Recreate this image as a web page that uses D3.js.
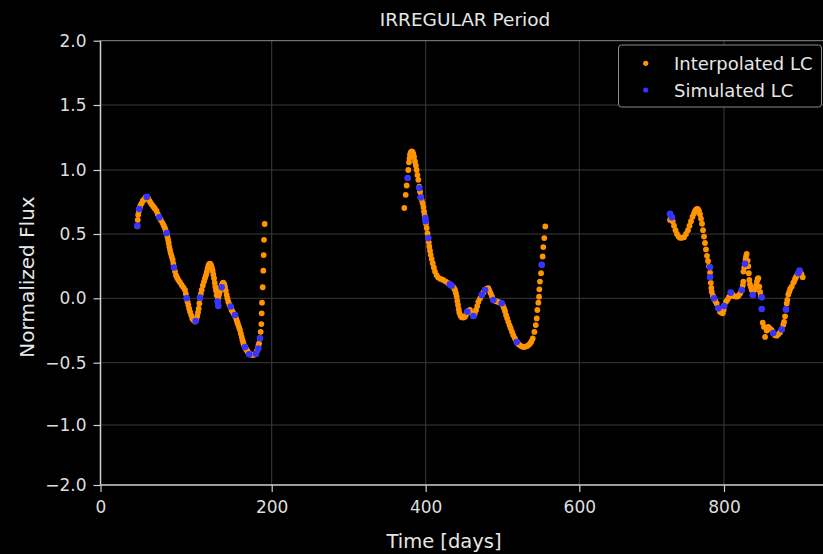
<!DOCTYPE html>
<html>
<head>
<meta charset="utf-8">
<script src="https://cdn.jsdelivr.net/npm/d3@7"></script>
<style>
  body { margin: 0; background: #000; }
  text { font-family: "DejaVu Sans", sans-serif; }
</style>
</head>
<body>
<svg id="chart" width="823" height="554"></svg>
<script>
// Tick values and labels
const xTicks = [0, 200, 400, 600, 800];
const yTicks = [2, 1.5, 1, 0.5, 0, -0.5, -1, -2];
const legendLabels = ["Interpolated LC", "Simulated LC"];

// Interpolated light curve, [time (days), normalized flux], three observing seasons
const interpSeason1 = [
  [43.0, 0.56], [43.5, 0.61], [44.0, 0.65], [44.8, 0.68], [45.5, 0.70], [46.5, 0.72],
  [48.0, 0.74], [49.5, 0.76], [51.0, 0.77], [52.5, 0.785], [54.0, 0.79], [55.5, 0.78],
  [57.0, 0.76], [58.5, 0.745], [60.0, 0.73], [61.7, 0.715], [63.5, 0.70], [65.5, 0.68],
  [67.0, 0.655], [68.7, 0.63], [70.5, 0.61], [72.5, 0.585], [74.0, 0.565], [75.3, 0.545],
  [76.3, 0.525], [77.3, 0.505], [78.2, 0.48], [79.0, 0.455], [79.7, 0.43], [80.4, 0.40],
  [81.2, 0.375], [82.0, 0.35], [83.2, 0.325], [84.3, 0.30], [85.1, 0.27], [85.9, 0.24],
  [87.0, 0.21], [88.2, 0.18], [89.5, 0.16], [90.9, 0.143], [92.8, 0.125], [94.8, 0.104],
  [96.8, 0.085], [98.7, 0.065], [99.7, 0.035], [100.7, 0.00], [101.6, -0.025], [102.6, -0.052],
  [103.6, -0.08], [104.6, -0.105], [105.9, -0.13], [107.2, -0.156], [108.8, -0.17], [110.4, -0.18],
  [111.8, -0.165], [113.0, -0.14], [113.9, -0.11], [114.7, -0.08], [115.5, -0.04], [116.2, 0.00],
  [117.2, 0.035], [118.2, 0.065], [119.5, 0.10], [120.9, 0.13], [122.0, 0.155], [123.2, 0.18],
  [124.2, 0.205], [125.2, 0.234], [126.2, 0.255], [127.1, 0.268], [128.1, 0.27], [129.1, 0.26],
  [130.1, 0.24], [131.0, 0.215], [131.8, 0.185], [132.6, 0.156], [133.4, 0.12], [134.1, 0.09],
  [134.9, 0.06], [135.7, 0.026], [136.9, -0.02], [137.6, 0.00], [138.4, 0.026], [139.4, 0.05],
  [140.4, 0.078], [141.5, 0.10], [142.5, 0.115], [143.5, 0.122], [144.5, 0.11], [145.4, 0.09],
  [146.4, 0.06], [147.4, 0.026], [148.3, 0.00], [149.3, -0.026], [150.7, -0.05], [152.1, -0.07],
  [153.2, -0.09], [154.4, -0.105], [155.7, -0.12], [157.1, -0.136], [158.1, -0.15], [159.1, -0.17],
  [160.0, -0.19], [161.0, -0.208], [162.0, -0.228], [163.0, -0.247], [164.0, -0.275], [165.0, -0.30],
  [165.9, -0.325], [166.8, -0.347], [167.8, -0.365], [168.8, -0.378], [170.1, -0.395], [171.5, -0.409],
  [172.6, -0.42], [173.8, -0.43], [175.2, -0.435], [176.6, -0.437], [178.0, -0.44], [179.3, -0.437],
  [180.5, -0.435], [181.7, -0.43], [182.7, -0.41], [183.6, -0.39], [184.4, -0.37], [185.2, -0.35],
  [186.3, -0.31], [187.1, -0.26], [187.9, -0.20], [188.3, -0.117], [188.7, -0.034], [189.5, 0.086],
  [190.2, 0.215], [190.6, 0.336], [191.0, 0.455], [191.8, 0.578]
];

const interpSeason2 = [
  [372.2, 0.703], [374.0, 0.806], [375.3, 0.879], [376.6, 0.937], [377.4, 1.00], [378.3, 1.059],
  [379.0, 1.09], [379.6, 1.119], [380.6, 1.135], [381.8, 1.144], [382.8, 1.14], [383.9, 1.126],
  [385.0, 1.10], [386.1, 1.066], [387.2, 1.035], [388.3, 1.00], [389.3, 0.96], [390.4, 0.923],
  [391.7, 0.87], [392.6, 0.83], [393.5, 0.793], [394.8, 0.765], [396.1, 0.74], [397.0, 0.71],
  [397.8, 0.676], [398.6, 0.645], [399.5, 0.617], [400.4, 0.58], [401.3, 0.546], [402.4, 0.505],
  [403.4, 0.468], [404.0, 0.435], [404.7, 0.403], [405.6, 0.37], [406.5, 0.338], [407.8, 0.305],
  [409.1, 0.273], [410.6, 0.24], [412.1, 0.208], [414.2, 0.18], [416.4, 0.161], [419.6, 0.15],
  [422.9, 0.143], [426.1, 0.13], [429.4, 0.117], [432.3, 0.104], [435.2, 0.091], [436.7, 0.08],
  [438.2, 0.065], [439.3, 0.04], [440.4, 0.013], [441.2, -0.02], [442.1, -0.052], [443.0, -0.085],
  [443.8, -0.112], [445.3, -0.135], [446.9, -0.148], [449.0, -0.15], [451.2, -0.144], [452.7, -0.125],
  [454.2, -0.105], [456.0, -0.095], [457.7, -0.091], [460.0, -0.115], [462.1, -0.138], [463.8, -0.12],
  [465.6, -0.091], [467.1, -0.06], [468.6, -0.026], [470.8, 0.00], [473.0, 0.026], [475.1, 0.045],
  [477.3, 0.065], [479.4, 0.075], [481.5, 0.078], [483.0, 0.06], [484.6, 0.039], [486.3, 0.015],
  [488.1, -0.013], [490.7, -0.02], [493.3, -0.026], [496.2, -0.032], [499.0, -0.039], [500.5, -0.055],
  [502.0, -0.078], [503.3, -0.10], [504.6, -0.13], [506.1, -0.155], [507.6, -0.183], [509.2, -0.21],
  [510.7, -0.234], [512.4, -0.26], [514.1, -0.286], [516.3, -0.313], [518.5, -0.339], [520.7, -0.355],
  [522.8, -0.365], [525.0, -0.373], [527.1, -0.378], [529.4, -0.377], [531.6, -0.372], [533.8, -0.363],
  [535.9, -0.351], [537.7, -0.335], [539.4, -0.312], [541.5, -0.261], [543.3, -0.208], [544.6, -0.156],
  [545.4, -0.091], [546.7, -0.034], [547.6, 0.013], [548.0, 0.07], [548.8, 0.13], [550.2, 0.195],
  [551.0, 0.26], [552.3, 0.325], [553.1, 0.398], [554.4, 0.468], [555.7, 0.559]
];

const interpSeason3 = [
  [725.4, 0.61], [726.3, 0.64], [727.5, 0.625], [729.0, 0.60], [730.9, 0.565], [733.0, 0.53],
  [735.0, 0.50], [737.2, 0.48], [739.2, 0.47], [742.0, 0.47], [744.7, 0.475], [747.5, 0.50],
  [750.2, 0.53], [752.3, 0.565], [754.4, 0.60], [756.5, 0.635], [758.5, 0.66], [760.0, 0.68],
  [761.3, 0.69], [762.7, 0.697], [764.0, 0.695], [765.4, 0.68], [766.8, 0.655], [768.2, 0.62],
  [769.6, 0.58], [771.0, 0.53], [772.4, 0.48], [773.7, 0.43], [775.1, 0.38], [776.5, 0.33],
  [777.9, 0.29], [779.3, 0.25], [780.7, 0.20], [781.8, 0.12], [782.5, 0.08], [783.0, 0.05],
  [784.6, 0.02], [786.2, 0.00], [788.0, -0.02], [789.9, -0.04], [792.1, -0.078], [794.5, -0.105],
  [796.4, -0.11], [798.2, -0.117], [799.5, -0.09], [800.5, -0.06], [802.8, -0.026], [805.0, -0.01],
  [807.0, 0.01], [809.3, 0.044], [811.0, 0.035], [812.9, 0.018], [815.0, 0.015], [817.6, 0.013],
  [820.0, 0.02], [822.5, 0.04], [824.5, 0.065], [826.0, 0.10], [826.7, 0.13], [826.9, 0.208],
  [828.0, 0.24], [829.8, 0.30], [830.4, 0.325], [831.4, 0.346], [832.7, 0.293], [833.6, 0.25],
  [834.3, 0.195], [835.0, 0.143], [835.9, 0.109], [837.0, 0.09], [838.3, 0.065], [840.5, 0.06],
  [842.9, 0.07], [844.5, 0.10], [845.5, 0.13], [846.5, 0.15], [847.4, 0.156], [848.8, 0.091],
  [849.8, 0.05], [850.8, 0.02], [853.5, -0.19], [855.3, -0.222], [856.7, -0.30], [859.0, -0.25],
  [861.2, -0.222], [863.6, -0.235], [865.9, -0.247], [868.1, -0.27], [870.5, -0.286], [872.8, -0.29],
  [875.0, -0.28], [877.4, -0.265], [879.8, -0.242], [882.0, -0.205], [883.0, -0.183], [884.4, -0.14],
  [885.7, -0.086], [886.7, -0.04], [887.5, -0.013], [888.9, 0.03], [890.3, 0.052], [891.6, 0.075],
  [893.6, 0.091], [895.8, 0.12], [896.8, 0.13], [898.2, 0.15], [899.5, 0.164], [901.0, 0.18],
  [902.7, 0.195], [905.0, 0.21], [907.0, 0.19], [908.8, 0.164]
];

// Simulated light curve samples, [time (days), normalized flux]
const simulated = [
  [43.0, 0.564], [45.3, 0.695], [54.0, 0.79], [68.7, 0.63], [77.3, 0.507], [85.9, 0.24],
  [100.7, 0.0], [111.2, -0.177], [116.2, 0.005], [136.9, -0.026], [137.6, -0.06], [141.6, 0.086],
  [152.1, -0.064], [157.1, -0.13], [168.8, -0.378], [173.8, -0.435], [181.7, -0.43], [184.4, -0.39],
  [186.3, -0.31],
  [376.6, 0.937], [391.7, 0.859], [393.5, 0.785], [399.5, 0.625], [399.8, 0.60], [403.4, 0.468],
  [431.6, 0.109], [433.7, 0.097], [454.2, -0.105], [462.1, -0.138], [473.0, 0.026], [477.3, 0.065],
  [488.1, -0.013], [499.0, -0.039], [518.5, -0.339], [551.0, 0.26],
  [725.4, 0.657], [728.0, 0.63], [780.6, 0.242], [780.8, 0.164], [786.2, 0.0], [792.1, -0.078],
  [800.0, -0.06], [809.3, 0.044], [824.5, 0.065], [829.0, 0.268], [839.7, 0.026], [852.1, 0.008],
  [852.1, -0.083], [868.1, -0.27], [879.8, -0.242], [885.7, -0.086], [902.7, 0.195], [904.3, 0.215]
];

const interpolated = interpSeason1.concat(interpSeason2, interpSeason3);

const ORANGE = "#ff9400";
const BLUE = "#3535ff";
const PLOT = { LEFT: 100.5, RIGHT: 829, TOP: 40.7, BOTTOM: 485 };

const svg = d3.select("#chart");
svg.append("rect").attr("width", 823).attr("height", 554).attr("fill", "#000");

// Scales (the picture's tick spacing is uneven, so both scales are piecewise)
const x = d3.scaleLinear()
  .domain([0, 200, 400, 600, 800, 1000])
  .range([100.5, 271.7, 425.7, 579.3, 724, 868.7]);

const y = d3.scaleLinear()
  .domain(yTicks)
  .range([40.7, 105, 170, 234, 298.3, 362.7, 425, 485]);

// Grid
const grid = svg.append("g").attr("stroke", "#3a3a3a").attr("stroke-width", 1);
grid.selectAll(".vgrid").data(xTicks.slice(1)).enter().append("line")
  .attr("x1", d => x(d)).attr("x2", d => x(d))
  .attr("y1", PLOT.TOP).attr("y2", PLOT.BOTTOM);
grid.selectAll(".hgrid").data(yTicks.slice(1, -1)).enter().append("line")
  .attr("x1", PLOT.LEFT).attr("x2", PLOT.RIGHT)
  .attr("y1", d => y(d)).attr("y2", d => y(d));

// Spines
svg.append("line").attr("x1", PLOT.LEFT).attr("x2", PLOT.RIGHT)
  .attr("y1", PLOT.TOP).attr("y2", PLOT.TOP).attr("stroke", "#8a8a8a");
svg.append("line").attr("x1", PLOT.LEFT).attr("x2", PLOT.RIGHT)
  .attr("y1", PLOT.BOTTOM).attr("y2", PLOT.BOTTOM).attr("stroke", "#d0d0d0").attr("stroke-width", 1.5);
svg.append("line").attr("x1", PLOT.LEFT).attr("x2", PLOT.LEFT)
  .attr("y1", PLOT.TOP).attr("y2", PLOT.BOTTOM).attr("stroke", "#d0d0d0").attr("stroke-width", 1.5);

// Axes
const xAxis = svg.append("g")
  .attr("transform", "translate(0," + PLOT.BOTTOM + ")")
  .call(d3.axisBottom(x).tickValues(xTicks).tickSize(7).tickPadding(9).tickFormat(d3.format("d")));
const yAxis = svg.append("g")
  .attr("transform", "translate(" + PLOT.LEFT + ",0)")
  .call(d3.axisLeft(y).tickValues(yTicks).tickSize(7).tickPadding(7).tickFormat(d3.format(".1f")));

[xAxis, yAxis].forEach(a => {
  a.select(".domain").remove();
  a.selectAll(".tick line").attr("stroke", "#d0d0d0").attr("stroke-width", 1.2);
  a.selectAll(".tick text").attr("fill", "#dedede").style("font-size", "17px")
    .style("font-family", "DejaVu Sans");
});

// Points
svg.append("g").selectAll("circle").data(interpolated).enter().append("circle")
  .attr("cx", d => x(d[0])).attr("cy", d => y(d[1]))
  .attr("r", 2.9).attr("fill", ORANGE);

svg.append("g").selectAll("circle").data(simulated).enter().append("circle")
  .attr("cx", d => x(d[0])).attr("cy", d => y(d[1]))
  .attr("r", 3.3).attr("fill", BLUE);

// Title and labels
svg.append("text").attr("x", 465).attr("y", 26).attr("text-anchor", "middle")
  .attr("fill", "#e6e6e6").style("font-size", "18.5px").text("IRREGULAR Period");

svg.append("text").attr("x", 444).attr("y", 548).attr("text-anchor", "middle")
  .attr("fill", "#e6e6e6").style("font-size", "19.5px").text("Time [days]");

svg.append("text").attr("text-anchor", "middle")
  .attr("transform", "translate(34,277)rotate(-90)")
  .attr("fill", "#e6e6e6").style("font-size", "20px").text("Normalized Flux");

// Legend
const legend = svg.append("g");
legend.append("rect").attr("x", 618.5).attr("y", 45).attr("width", 203).attr("height", 62)
  .attr("rx", 3).attr("fill", "#000").attr("stroke", "#8a8a8a").attr("stroke-width", 1);
const legendColors = [ORANGE, BLUE];
legendLabels.forEach((label, i) => {
  const cy = 63.3 + i * 26.7;
  legend.append("circle").attr("cx", 645.7).attr("cy", cy).attr("r", 2.6).attr("fill", legendColors[i]);
  legend.append("text").attr("x", 674).attr("y", cy + 6.5)
    .attr("fill", "#e6e6e6").style("font-size", "18px").text(label);
});
</script>
</body>
</html>
